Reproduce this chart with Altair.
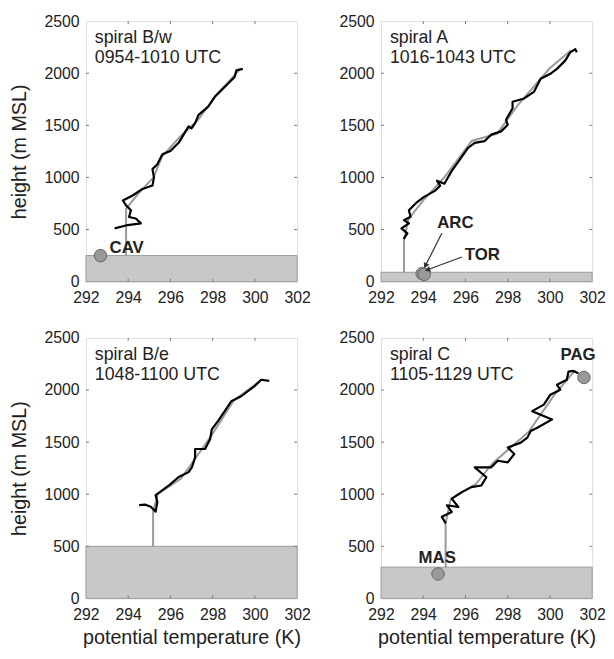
import math
import altair as alt
import pandas as pd

# ---------------- data ----------------
panel_names = ["spiral B/w", "spiral A", "spiral B/e", "spiral C"]
panel_times = ["0954-1010 UTC", "1016-1043 UTC", "1048-1100 UTC", "1105-1129 UTC"]
ground_heights = [250, 90, 500, 300]

# black (measured) profiles: potential temperature (K), height (m MSL)
bw_theta = [293.36, 293.98, 294.6, 294.36, 294.04, 294.13, 293.9, 293.75, 294.21, 294.68, 295.15, 295.22,
            295.15, 295.38, 295.62, 296.0, 296.39, 296.86, 297.0, 297.17, 297.33, 297.79, 298.1, 298.57,
            299.04, 299.12, 299.43]
bw_height = [511, 543, 559, 606, 621, 685, 732, 779, 827, 890, 922, 1001,
             1080, 1127, 1222, 1253, 1332, 1490, 1470, 1521, 1600, 1679, 1774, 1868,
             1963, 2027, 2042]

a_theta = [293.07, 293.25, 292.97, 293.32, 293.09, 293.4, 293.32, 293.71, 294.02, 294.57, 294.8, 294.65,
           295.0, 295.35, 295.58, 296.13, 296.44, 296.9, 297.22, 297.69, 298.0, 297.92, 298.23, 298.23,
           298.78, 299.24, 299.56, 300.02, 300.33, 300.72, 300.96, 301.2, 301.27]
a_height = [410, 464, 511, 559, 590, 622, 685, 764, 811, 874, 921, 969,
            940, 1063, 1127, 1285, 1332, 1348, 1411, 1442, 1505, 1553, 1664, 1726,
            1758, 1821, 1948, 1995, 2042, 2121, 2200, 2232, 2200]

be_theta = [294.52, 294.8, 295.07, 295.3, 295.38, 295.3, 295.61, 295.93, 296.39, 296.86, 297.02, 297.17,
            297.17, 297.64, 297.88, 297.96, 298.26, 298.57, 298.88, 299.35, 299.97, 300.3, 300.68]
be_height = [896, 900, 880, 832, 927, 991, 1038, 1085, 1165, 1212, 1259, 1354,
             1434, 1434, 1528, 1623, 1703, 1797, 1892, 1940, 2035, 2098, 2088]

c_theta = [295.07, 294.88, 295.35, 295.12, 295.66, 295.35, 295.82, 296.28, 296.75, 296.99, 296.44, 297.22,
           297.53, 298.0, 298.31, 298.0, 298.62, 298.93, 299.09, 299.4, 300.1, 299.16, 299.71, 300.02,
           300.49, 300.33, 300.8, 300.88, 301.1, 301.35]
c_height = [720, 783, 830, 894, 877, 957, 1020, 1068, 1084, 1163, 1258, 1258,
            1321, 1305, 1385, 1448, 1495, 1543, 1606, 1638, 1718, 1797, 1860, 1955,
            2003, 2050, 2098, 2177, 2183, 2161]

# gray (smoothed) profiles including the vertical segment from the ground
bw_gray_theta = [293.9, 293.9, 294.5, 295.2, 295.6, 296.5, 297.3, 298.2, 299.3]
bw_gray_height = [250, 700, 850, 1000, 1200, 1400, 1550, 1800, 2040]
a_gray_theta = [293.09, 293.09, 293.3, 294.0, 295.0, 296.3, 297.5, 298.5, 300.0, 301.0]
a_gray_height = [90, 401, 600, 780, 1000, 1350, 1420, 1700, 2050, 2220]
be_gray_theta = [295.18, 295.18, 295.4, 296.5, 297.2, 297.9, 299.0, 300.2]
be_gray_height = [500, 830, 1000, 1150, 1350, 1550, 1900, 2080]
c_gray_theta = [295.06, 295.06, 295.3, 296.5, 297.3, 299.0, 300.2, 301.2]
c_gray_height = [300, 720, 950, 1100, 1300, 1600, 1950, 2190]

# surface stations
station_panel = [0, 1, 1, 3, 3]
station_names = ["CAV", "ARC", "TOR", "MAS", "PAG"]
station_theta = [292.69, 293.95, 294.05, 294.7, 301.61]
station_height = [250, 78, 70, 235, 2120]
label_theta = [293.12, 294.66, 295.97, 293.78, 300.5]
label_height = [275, 511, 208, 342, 2290]

# arrows (spiral A): start (label) -> end (station)
arrow_start_theta = [294.88, 295.83]
arrow_start_height = [464, 237]
arrow_end_theta = [294.1, 294.2]
arrow_end_height = [152, 114]

x_ticks = [292, 294, 296, 298, 300, 302]
y_ticks = [0, 500, 1000, 1500, 2000, 2500]

black_t = [bw_theta, a_theta, be_theta, c_theta]
black_h = [bw_height, a_height, be_height, c_height]
gray_t = [bw_gray_theta, a_gray_theta, be_gray_theta, c_gray_theta]
gray_h = [bw_gray_height, a_gray_height, be_gray_height, c_gray_height]

W, H = 214, 264
FONT = "Liberation Sans"
xscale = alt.Scale(domain=[292, 302], nice=False, zero=False)
yscale = alt.Scale(domain=[0, 2500], nice=False, zero=False)


def panel(i):
    left = i in (0, 2)
    bottom = i in (2, 3)
    xax = alt.Axis(values=x_ticks, format="d", grid=False, ticks=False, domain=False, labelPadding=8,
                   labelFontSize=16, labelColor="#222", labelFont=FONT,
                   titleFontSize=20, titleFont=FONT, titleFontWeight="normal", titleColor="#222",
                   titlePadding=6, labelFlush=False)
    yax = alt.Axis(values=y_ticks, format="d", grid=False, ticks=False, domain=False, labelPadding=7,
                   labelFontSize=16, labelColor="#222", labelFont=FONT,
                   titleFontSize=20, titleFont=FONT, titleFontWeight="normal", titleColor="#222",
                   titlePadding=15, labelFlush=False)
    xt = "potential temperature (K)" if bottom else None
    yt = "height (m MSL)" if left else None

    gdf = pd.DataFrame({"x": [292], "x2": [302], "y": [0], "y2": [ground_heights[i]]})
    ground = alt.Chart(gdf).mark_rect(fill="#c8c8c8", stroke="#9a9a9a", strokeWidth=1).encode(
        x=alt.X("x:Q", scale=xscale, axis=xax, title=xt),
        x2="x2:Q",
        y=alt.Y("y:Q", scale=yscale, axis=yax, title=yt),
        y2="y2:Q",
    )

    # small inward ticks on all four sides
    xtk = pd.DataFrame({"v": x_ticks[1:-1]})
    ytk = pd.DataFrame({"v": y_ticks[1:-1]})
    tick_b = alt.Chart(xtk).mark_rule(color="#777777", strokeWidth=1).encode(
        x=alt.X("v:Q", scale=xscale), y=alt.value(H), y2=alt.value(H - 3))
    tick_t = alt.Chart(xtk).mark_rule(color="#777777", strokeWidth=1).encode(
        x=alt.X("v:Q", scale=xscale), y=alt.value(0), y2=alt.value(3))
    tick_l = alt.Chart(ytk).mark_rule(color="#777777", strokeWidth=1).encode(
        y=alt.Y("v:Q", scale=yscale), x=alt.value(0), x2=alt.value(3))
    tick_r = alt.Chart(ytk).mark_rule(color="#777777", strokeWidth=1).encode(
        y=alt.Y("v:Q", scale=yscale), x=alt.value(W), x2=alt.value(W - 3))

    gr = pd.DataFrame({"t": gray_t[i], "h": gray_h[i], "o": list(range(len(gray_t[i])))})
    gray = alt.Chart(gr).mark_line(color="#999999", strokeWidth=2).encode(
        x=alt.X("t:Q", scale=xscale), y=alt.Y("h:Q", scale=yscale), order="o:Q")

    bl = pd.DataFrame({"t": black_t[i], "h": black_h[i], "o": list(range(len(black_t[i])))})
    black = alt.Chart(bl).mark_line(color="#000000", strokeWidth=2.2, strokeJoin="round").encode(
        x=alt.X("t:Q", scale=xscale), y=alt.Y("h:Q", scale=yscale), order="o:Q")

    tdf = pd.DataFrame({"x": [292.42, 292.42], "y": [2290, 2100],
                        "txt": [panel_names[i], panel_times[i]]})
    texts = alt.Chart(tdf).mark_text(align="left", baseline="alphabetic", fontSize=18,
                                     font=FONT, color="#222").encode(
        x=alt.X("x:Q", scale=xscale), y=alt.Y("y:Q", scale=yscale), text="txt:N")

    layers = [ground, tick_b, tick_t, tick_l, tick_r, gray, black, texts]

    idx = [k for k, p in enumerate(station_panel) if p == i]
    if idx:
        sdf = pd.DataFrame({"t": [station_theta[k] for k in idx], "h": [station_height[k] for k in idx],
                            "lt": [label_theta[k] for k in idx], "lh": [label_height[k] for k in idx],
                            "name": [station_names[k] for k in idx]})
        pts = alt.Chart(sdf).mark_point(filled=True, shape="circle", size=160, fill="#999999",
                                        stroke="#666666", strokeWidth=1, opacity=1).encode(
            x=alt.X("t:Q", scale=xscale), y=alt.Y("h:Q", scale=yscale))
        labs = alt.Chart(sdf).mark_text(align="left", baseline="alphabetic", fontSize=17,
                                        fontWeight="bold", font=FONT, color="#222").encode(
            x=alt.X("lt:Q", scale=xscale), y=alt.Y("lh:Q", scale=yscale), text="name:N")
        layers += [pts, labs]

    if i == 1:
        rows = []
        heads = []
        for k in range(len(arrow_start_theta)):
            rows.append({"t": arrow_start_theta[k], "h": arrow_start_height[k], "a": k, "o": 0})
            rows.append({"t": arrow_end_theta[k], "h": arrow_end_height[k], "a": k, "o": 1})
            dx = (arrow_end_theta[k] - arrow_start_theta[k]) * W / 10.0
            dy = (arrow_end_height[k] - arrow_start_height[k]) * H / 2500.0
            ang = math.degrees(math.atan2(dx, dy)) % 360
            heads.append({"t": arrow_end_theta[k], "h": arrow_end_height[k], "ang": ang})
        adf = pd.DataFrame(rows)
        arr = alt.Chart(adf).mark_line(color="#333333", strokeWidth=1.2).encode(
            x=alt.X("t:Q", scale=xscale), y=alt.Y("h:Q", scale=yscale),
            detail="a:N", order="o:Q")
        hdf = pd.DataFrame(heads)
        hd = alt.Chart(hdf).mark_point(shape="triangle-up", filled=True, size=40, color="#333333",
                                       opacity=1).encode(
            x=alt.X("t:Q", scale=xscale), y=alt.Y("h:Q", scale=yscale),
            angle=alt.Angle("ang:Q", scale=None))
        layers += [arr, hd]

    return alt.layer(*layers).properties(width=W, height=H)


chart = alt.concat(
    *[panel(i) for i in range(4)], columns=2, spacing={"row": 57, "column": 85}, bounds="flush"
).properties(padding=0).configure_view(stroke="#777777", strokeWidth=1).configure(font=FONT)

chart.save("out.html", embed_options={"renderer": "svg", "actions": False})
